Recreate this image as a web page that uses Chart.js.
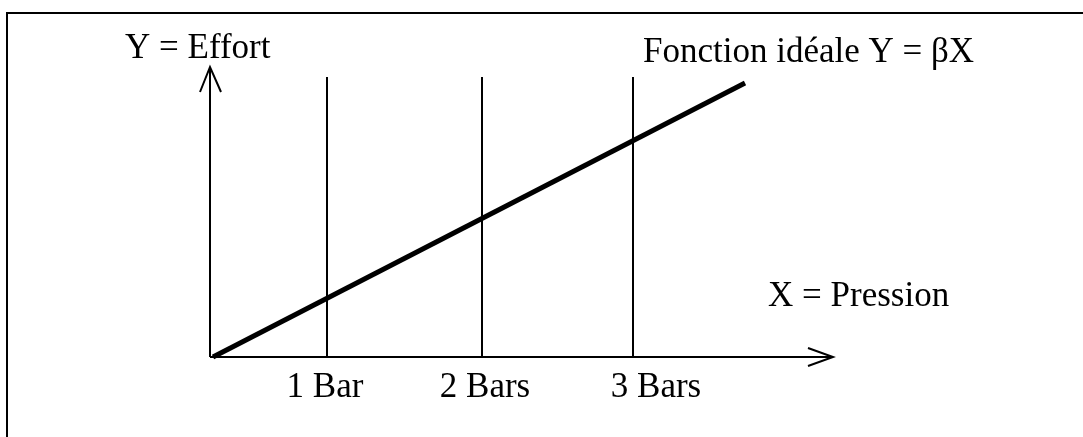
<!DOCTYPE html>
<html>
<head>
<meta charset="utf-8">
<script src="https://cdn.jsdelivr.net/npm/chart.js@4"></script>
<style>
  html, body { margin: 0; padding: 0; background: #fff; }
  #wrap { position: relative; width: 1083px; height: 437px; }
</style>
</head>
<body>
<div id="wrap"><canvas id="c" width="1083" height="437"></canvas></div>
<script>
// ---- Data (arbitrary linear units) ----
const categories = ['1 Bar', '2 Bars', '3 Bars'];
const barPositions = [1.17, 2.72, 4.23];      // x value of each vertical pressure line
const barLineTop = 2.80;                        // y value where vertical lines stop
const idealX = [0.03, 5.35];                    // ideal function Y = βX
const idealY = [0.0, 2.74];
const axisMaxX = 6.23;
const axisMaxY = 2.90;
const xAxisTitle = 'X = Pression';
const yAxisTitle = 'Y = Effort';
const lineTitle = 'Fonction idéale Y = βX';
const tickLabelX = [1.15, 2.75, 4.46];          // where each category label is centred

const FONT = '35px "Liberation Serif", "Times New Roman", serif';

const datasets = [];
// x axis
datasets.push({ data: [{x: 0, y: 0}, {x: axisMaxX, y: 0}], borderColor: '#000', borderWidth: 2 });
// y axis
datasets.push({ data: [{x: 0, y: 0}, {x: 0, y: axisMaxY}], borderColor: '#000', borderWidth: 2 });
// arrowheads
datasets.push({ data: [{x: axisMaxX - 0.25, y: 0.09}, {x: axisMaxX, y: 0}, {x: axisMaxX - 0.25, y: -0.09}], borderColor: '#000', borderWidth: 2 });
datasets.push({ data: [{x: -0.10, y: axisMaxY - 0.25}, {x: 0, y: axisMaxY}, {x: 0.11, y: axisMaxY - 0.25}], borderColor: '#000', borderWidth: 2 });
// vertical pressure lines
barPositions.forEach(p => {
  datasets.push({ data: [{x: p, y: 0}, {x: p, y: barLineTop}], borderColor: '#000', borderWidth: 2 });
});
// ideal line
datasets.push({ data: idealX.map((x, i) => ({x, y: idealY[i]})), borderColor: '#000', borderWidth: 5, borderCapStyle: 'butt' });

const textPlugin = {
  id: 'texts',
  beforeDraw(chart) {
    const ctx = chart.ctx;
    ctx.save();
    ctx.fillStyle = '#fff';
    ctx.fillRect(0, 0, chart.width, chart.height);
    ctx.strokeStyle = '#000';
    ctx.lineWidth = 2;
    ctx.strokeRect(7, 13, 2000, 2000);
    ctx.restore();
  },
  afterDraw(chart) {
    const ctx = chart.ctx;
    const xs = chart.scales.x, ys = chart.scales.y;
    ctx.save();
    ctx.fillStyle = '#000';
    ctx.font = FONT;
    ctx.textBaseline = 'alphabetic';
    ctx.textAlign = 'center';
    categories.forEach((c, i) => {
      ctx.fillText(c, xs.getPixelForValue(tickLabelX[i]), ys.getPixelForValue(0) + 40);
    });
    ctx.textAlign = 'left';
    ctx.fillText(yAxisTitle, xs.getPixelForValue(0) - 85, ys.getPixelForValue(axisMaxY) - 9);
    ctx.fillText(xAxisTitle, xs.getPixelForValue(5.58), ys.getPixelForValue(0.51));
    ctx.fillText(lineTitle, xs.getPixelForValue(4.33), ys.getPixelForValue(axisMaxY) - 5);
    ctx.restore();
  }
};

new Chart(document.getElementById('c'), {
  type: 'line',
  data: { datasets },
  options: {
    responsive: false,
    animation: false,
    events: [],
    layout: { padding: { left: 210, top: 67, right: 250, bottom: 80 } },
    plugins: { legend: { display: false }, tooltip: { enabled: false } },
    elements: { point: { radius: 0 }, line: { tension: 0, fill: false } },
    datasets: { line: { clip: false } },
    scales: {
      x: { type: 'linear', min: 0, max: axisMaxX, display: false },
      y: { type: 'linear', min: 0, max: axisMaxY, display: false }
    }
  },
  plugins: [textPlugin]
});
</script>
</body>
</html>
